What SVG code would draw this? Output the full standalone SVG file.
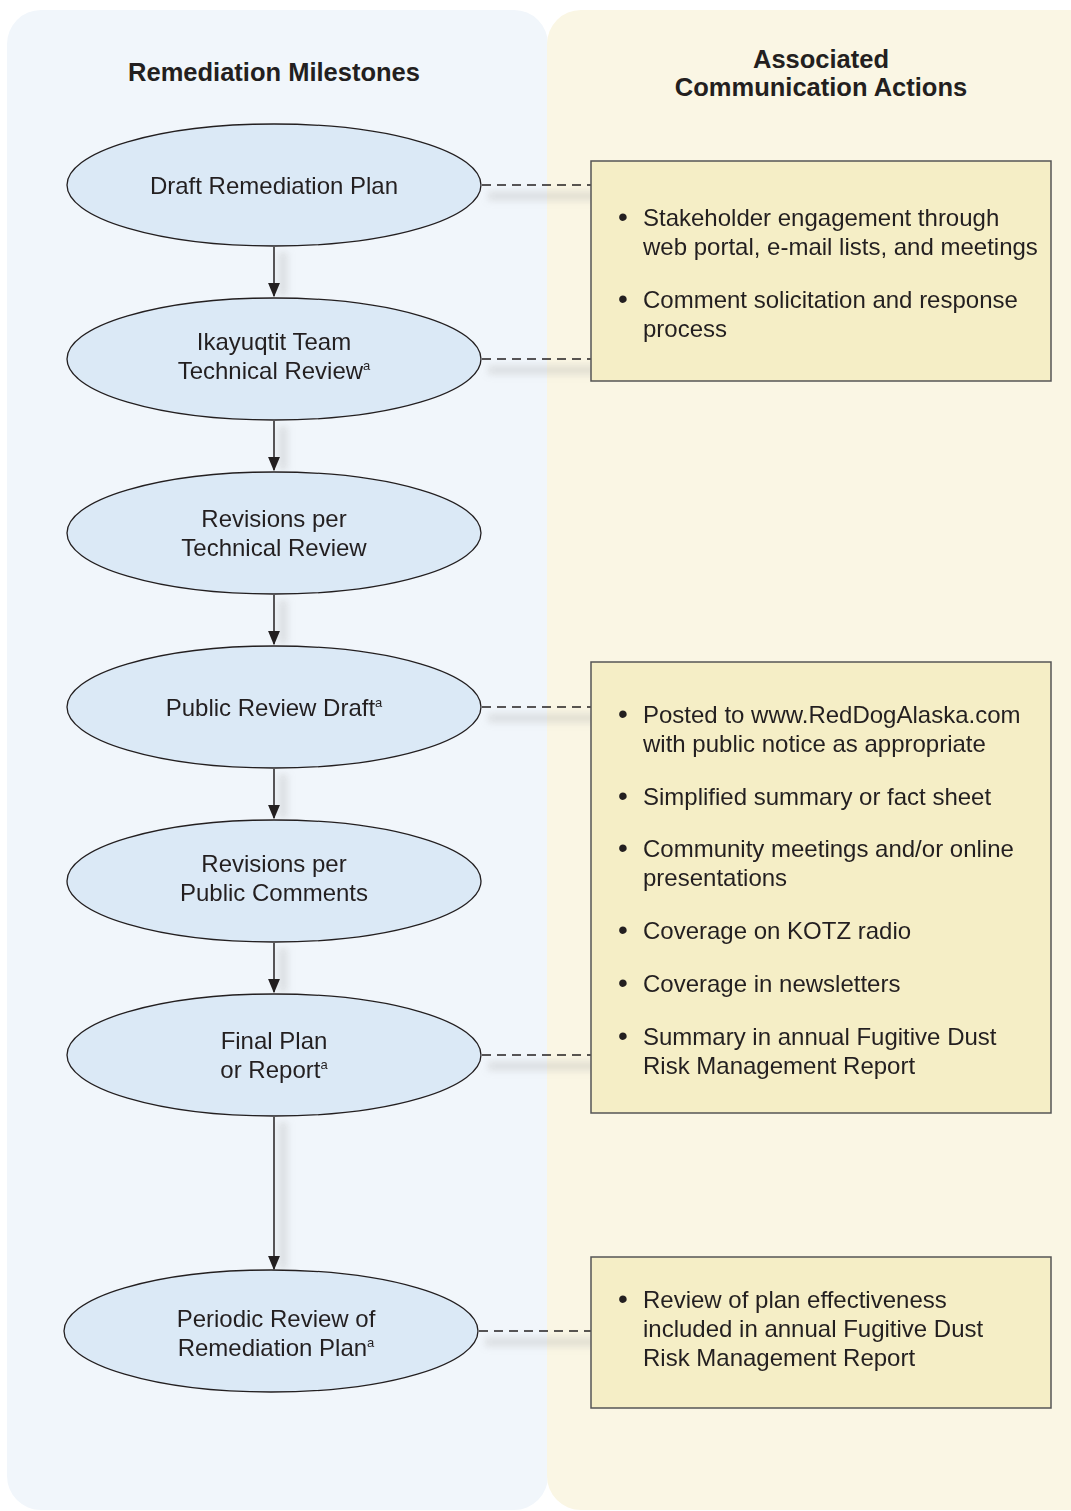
<svg xmlns="http://www.w3.org/2000/svg" width="1071" height="1511" viewBox="0 0 1071 1511">
<defs>
<style>
.hdr{font-family:"Liberation Sans",Arial,sans-serif;font-weight:bold;font-size:25.5px;fill:#231f20;text-anchor:middle}
.nt{font-family:"Liberation Sans",Arial,sans-serif;font-size:24px;fill:#231f20;text-anchor:middle}
.bt{font-family:"Liberation Sans",Arial,sans-serif;font-size:24px;fill:#231f20}
.bu{font-family:"Liberation Sans",Arial,sans-serif;font-size:28px;fill:#231f20}
.sup{font-size:13px}
.ell{fill:#dbe9f6;stroke:#231f20;stroke-width:1.3}
.box{fill:#f5eec6;stroke:#555;stroke-width:1.5}
.arr{stroke:#231f20;stroke-width:1.5;fill:none}
.dash{stroke:#231f20;stroke-width:1.3;stroke-dasharray:9,6;fill:none}
.shd{stroke:#aaa;stroke-width:9;opacity:0.3;fill:none}
</style>
<marker id="ahb" viewBox="0 0 12 10" refX="11" refY="5" markerWidth="15" markerHeight="12" markerUnits="userSpaceOnUse" orient="auto">
<path d="M0,0 L12,5 L0,10 z" fill="#231f20"/>
</marker>
<filter id="blur" x="-50%" y="-50%" width="200%" height="200%"><feGaussianBlur stdDeviation="3.5"/></filter>
</defs>
<rect width="1071" height="1511" fill="#ffffff"/>
<g id="panels">
<rect x="7" y="10" width="541" height="1500" rx="34" fill="#f1f6fb"/>
<rect x="547" y="10" width="560" height="1500" rx="34" fill="#faf6e4"/>
</g>
<g id="headers">
<text class="hdr" x="274" y="81">Remediation Milestones</text>
<text class="hdr" x="821" y="68">Associated</text>
<text class="hdr" x="821" y="96">Communication Actions</text>
</g>
<g id="connectors">
<g filter="url(#blur)">
<line class="shd" x1="283" y1="252" x2="283" y2="296"/>
<line class="shd" x1="283" y1="426" x2="283" y2="470"/>
<line class="shd" x1="283" y1="600" x2="283" y2="644"/>
<line class="shd" x1="283" y1="774" x2="283" y2="818"/>
<line class="shd" x1="283" y1="948" x2="283" y2="992"/>
<line class="shd" x1="283" y1="1122" x2="283" y2="1269"/>
<line class="shd" x1="488" y1="196" x2="600" y2="196"/>
<line class="shd" x1="488" y1="370" x2="600" y2="370"/>
<line class="shd" x1="488" y1="718" x2="600" y2="718"/>
<line class="shd" x1="488" y1="1066" x2="600" y2="1066"/>
<line class="shd" x1="485" y1="1342" x2="600" y2="1342"/>
</g>
<line class="arr" x1="274" y1="247" x2="274" y2="296" marker-end="url(#ahb)"/>
<line class="arr" x1="274" y1="421" x2="274" y2="470" marker-end="url(#ahb)"/>
<line class="arr" x1="274" y1="595" x2="274" y2="644" marker-end="url(#ahb)"/>
<line class="arr" x1="274" y1="769" x2="274" y2="818" marker-end="url(#ahb)"/>
<line class="arr" x1="274" y1="943" x2="274" y2="992" marker-end="url(#ahb)"/>
<line class="arr" x1="274" y1="1117" x2="274" y2="1269" marker-end="url(#ahb)"/>
<line class="dash" x1="482" y1="185" x2="591" y2="185"/>
<line class="dash" x1="482" y1="359" x2="591" y2="359"/>
<line class="dash" x1="482" y1="707" x2="591" y2="707"/>
<line class="dash" x1="482" y1="1055" x2="591" y2="1055"/>
<line class="dash" x1="479" y1="1331" x2="591" y2="1331"/>
</g>
<g id="n1"><ellipse class="ell" cx="274" cy="185" rx="207" ry="61"/><text class="nt" x="274" y="194">Draft Remediation Plan</text></g>
<g id="n2"><ellipse class="ell" cx="274" cy="359" rx="207" ry="61"/><text class="nt" x="274" y="350">Ikayuqtit Team</text><text class="nt" x="274" y="379">Technical Review<tspan class="sup" dy="-9">a</tspan></text></g>
<g id="n3"><ellipse class="ell" cx="274" cy="533" rx="207" ry="61"/><text class="nt" x="274" y="527">Revisions per</text><text class="nt" x="274" y="556">Technical Review</text></g>
<g id="n4"><ellipse class="ell" cx="274" cy="707" rx="207" ry="61"/><text class="nt" x="274" y="716">Public Review Draft<tspan class="sup" dy="-9">a</tspan></text></g>
<g id="n5"><ellipse class="ell" cx="274" cy="881" rx="207" ry="61"/><text class="nt" x="274" y="872">Revisions per</text><text class="nt" x="274" y="901">Public Comments</text></g>
<g id="n6"><ellipse class="ell" cx="274" cy="1055" rx="207" ry="61"/><text class="nt" x="274" y="1049">Final Plan</text><text class="nt" x="274" y="1078">or Report<tspan class="sup" dy="-9">a</tspan></text></g>
<g id="n7"><ellipse class="ell" cx="271" cy="1331" rx="207" ry="61"/><text class="nt" x="276" y="1327">Periodic Review of</text><text class="nt" x="276" y="1356">Remediation Plan<tspan class="sup" dy="-9">a</tspan></text></g>
<g id="box1">
<rect class="box" x="591" y="161" width="460" height="220"/>
<text class="bu" x="618" y="226">•</text><text class="bt" x="643" y="226">Stakeholder engagement through</text>
<text class="bt" x="643" y="255">web portal, e-mail lists, and meetings</text>
<text class="bu" x="618" y="308">•</text><text class="bt" x="643" y="308">Comment solicitation and response</text>
<text class="bt" x="643" y="337">process</text>
</g>
<g id="box2">
<rect class="box" x="591" y="662" width="460" height="451"/>
<text class="bu" x="618" y="723">•</text><text class="bt" x="643" y="723">Posted to www.RedDogAlaska.com</text>
<text class="bt" x="643" y="752">with public notice as appropriate</text>
<text class="bu" x="618" y="805">•</text><text class="bt" x="643" y="805">Simplified summary or fact sheet</text>
<text class="bu" x="618" y="857">•</text><text class="bt" x="643" y="857">Community meetings and/or online</text>
<text class="bt" x="643" y="886">presentations</text>
<text class="bu" x="618" y="939">•</text><text class="bt" x="643" y="939">Coverage on KOTZ radio</text>
<text class="bu" x="618" y="992">•</text><text class="bt" x="643" y="992">Coverage in newsletters</text>
<text class="bu" x="618" y="1045">•</text><text class="bt" x="643" y="1045">Summary in annual Fugitive Dust</text>
<text class="bt" x="643" y="1074">Risk Management Report</text>
</g>
<g id="box3">
<rect class="box" x="591" y="1257" width="460" height="151"/>
<text class="bu" x="618" y="1308">•</text><text class="bt" x="643" y="1308">Review of plan effectiveness</text>
<text class="bt" x="643" y="1337">included in annual Fugitive Dust</text>
<text class="bt" x="643" y="1366">Risk Management Report</text>
</g>
</svg>
